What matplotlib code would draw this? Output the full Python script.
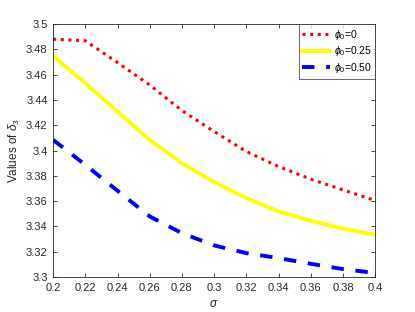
import matplotlib
matplotlib.use("Agg")
import matplotlib.pyplot as plt
from matplotlib.ticker import FuncFormatter

sigma = [0.20, 0.22, 0.24, 0.26, 0.28, 0.30, 0.32, 0.34, 0.36, 0.38, 0.40]
phi0_0 = [3.488, 3.4868, 3.4695, 3.4518, 3.4316, 3.415, 3.3992, 3.3874, 3.3774, 3.3689, 3.3605]
phi0_25 = [3.4747, 3.4532, 3.4308, 3.4084, 3.390, 3.375, 3.3624, 3.3518, 3.3445, 3.3382, 3.3334]
phi0_50 = [3.4084, 3.3887, 3.3682, 3.3479, 3.3347, 3.325, 3.3189, 3.315, 3.3105, 3.3063, 3.3032]
labels = [r'$\phi_0$=0', r'$\phi_0$=0.25', r'$\phi_0$=0.50']
xticks = [0.2, 0.22, 0.24, 0.26, 0.28, 0.3, 0.32, 0.34, 0.36, 0.38, 0.4]
yticks = [3.3, 3.32, 3.34, 3.36, 3.38, 3.4, 3.42, 3.44, 3.46, 3.48, 3.5]

plt.rcParams['font.family'] = ['Liberation Sans', 'DejaVu Sans']
plt.rcParams['mathtext.fontset'] = 'custom'
plt.rcParams['mathtext.it'] = 'Liberation Sans:italic'
plt.rcParams['mathtext.rm'] = 'Liberation Sans'

fig = plt.figure(figsize=(4.15, 3.12), dpi=100)
ax = fig.add_axes([0.128, 0.112, 0.776, 0.811])

ax.plot(sigma, phi0_0, color='#ff0000', linestyle=(0, (1, 1.5)), linewidth=2.2, label=labels[0])
ax.plot(sigma, phi0_25, color='#ffff00', linestyle='-', linewidth=2.8, label=labels[1])
ax.plot(sigma, phi0_50, color='#0000ff', linestyle=(0, (3.2, 3.0)), linewidth=2.8, label=labels[2])

ax.set_xlim(0.2, 0.4)
ax.set_ylim(3.3, 3.5)
ax.set_xticks(xticks)
ax.set_yticks(yticks)
fmt = FuncFormatter(lambda v, p: '%g' % round(v, 4))
ax.xaxis.set_major_formatter(fmt)
ax.yaxis.set_major_formatter(fmt)
ax.tick_params(direction='in', top=True, right=True, length=3, width=0.6,
               labelsize=8, colors='#262626', pad=4)
for s in ax.spines.values():
    s.set_color('#262626')
    s.set_linewidth(0.6)

ax.set_xlabel(r'$\sigma$', fontsize=8.5, color='#262626', labelpad=4)
ax.set_ylabel(r'Values of $\delta_3$', fontsize=8.5, color='#262626', labelpad=3)

leg = ax.legend(loc='upper right', fontsize=7.5, frameon=True, fancybox=False,
                borderaxespad=0.0, handlelength=2.7, handletextpad=0.3,
                labelspacing=0.25, borderpad=0.35)
leg.get_frame().set_edgecolor('#262626')
leg.get_frame().set_linewidth(0.6)

fig.savefig('out.png', dpi=100)
